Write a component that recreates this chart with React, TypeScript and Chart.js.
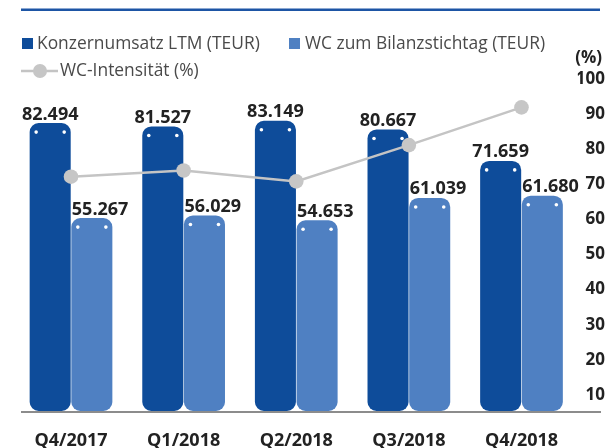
import React, { useEffect, useRef } from "react";
import { Chart, registerables } from "chart.js";

Chart.register(...registerables);

const categories = ["Q4/2017", "Q1/2018", "Q2/2018", "Q3/2018", "Q4/2018"];
const umsatz = [82494, 81527, 83149, 80667, 71659];
const wc = [55267, 56029, 54653, 61039, 61680];
const intensitaet = [67.0, 68.7, 65.7, 75.7, 86.1];
const pctTicks = [10, 20, 30, 40, 50, 60, 70, 80, 90, 100];
const seriesNames = ["Konzernumsatz LTM (TEUR)", "WC zum Bilanzstichtag (TEUR)", "WC-Intensität (%)"];
const pctTitle = "(%)";

const DARK = "#0e4c9a";
const LIGHT = "#4f80c2";
const GREY = "#c4c4c4";
const TEXT = "#222222";
const FONT = "'Open Sans', sans-serif";

function fmt(n: number): string {
  return String(n).replace(/\B(?=(\d{3})+(?!\d))/g, ".");
}

const decor = {
  id: "decor",
  beforeDraw(chart: any) {
    const ctx = chart.ctx;
    ctx.save();
    // top rule
    ctx.fillStyle = "#1d55a5";
    ctx.fillRect(21, 8.5, 579, 2.5);
    // legend
    ctx.font = `400 17.4px ${FONT}`;
    ctx.textBaseline = "middle";
    ctx.textAlign = "left";
    ctx.fillStyle = DARK;
    ctx.fillRect(22, 38, 11, 11);
    ctx.fillStyle = "#4a4a4a";
    ctx.fillText(seriesNames[0], 37, 44);
    ctx.fillStyle = LIGHT;
    ctx.fillRect(289, 38, 11, 11);
    ctx.fillStyle = "#4a4a4a";
    ctx.fillText(seriesNames[1], 305, 44);
    ctx.strokeStyle = GREY;
    ctx.lineWidth = 2.5;
    ctx.beginPath();
    ctx.moveTo(21, 71);
    ctx.lineTo(58, 71);
    ctx.stroke();
    ctx.fillStyle = "#c6c6c6";
    ctx.beginPath();
    ctx.arc(40, 71, 7, 0, Math.PI * 2);
    ctx.fill();
    ctx.fillStyle = "#4a4a4a";
    ctx.fillText(seriesNames[2], 60, 71);
    // (%) title of right axis
    ctx.font = `700 17px ${FONT}`;
    ctx.fillStyle = TEXT;
    ctx.textAlign = "right";
    ctx.fillText(pctTitle, 602, 58);
    ctx.restore();
  },
  afterDatasetsDraw(chart: any) {
    const ctx = chart.ctx;
    ctx.save();
    // baseline
    ctx.fillStyle = "#8c8c8c";
    ctx.fillRect(21, 411, 580, 2);
    [0, 1].forEach((di) => {
      const meta = chart.getDatasetMeta(di);
      const vals = chart.data.datasets[di].data as number[];
      meta.data.forEach((el: any, i: number) => {
        const half = el.width / 2;
        ctx.fillStyle = "#ffffff";
        [el.x - half + 6.5, el.x + half - 6.5].forEach((dx) => {
          ctx.beginPath();
          ctx.arc(dx, el.y + 9, 1.8, 0, Math.PI * 2);
          ctx.fill();
        });
        ctx.font = `700 18px ${FONT}`;
        ctx.fillStyle = TEXT;
        ctx.textBaseline = "alphabetic";
        if (di === 0) {
          ctx.textAlign = "center";
          ctx.fillText(fmt(vals[i]), el.x, el.y - 3.5);
        } else {
          ctx.textAlign = "left";
          ctx.fillText(fmt(vals[i]), el.x - half + 0.5, el.y - 3.5);
        }
      });
    });
    ctx.restore();
  },
};

export default function App() {
  const ref = useRef<HTMLCanvasElement>(null);
  useEffect(() => {
    if (!ref.current) return;
    const chart = new Chart(ref.current, {
      type: "bar",
      data: {
        labels: categories,
        datasets: [
          {
            type: "bar",
            label: seriesNames[0],
            data: umsatz,
            backgroundColor: DARK,
            borderRadius: 9,
            borderSkipped: false,
            categoryPercentage: 0.74,
            barPercentage: 0.985,
            yAxisID: "y",
            order: 2,
          },
          {
            type: "bar",
            label: seriesNames[1],
            data: wc,
            backgroundColor: LIGHT,
            borderRadius: 9,
            borderSkipped: false,
            categoryPercentage: 0.74,
            barPercentage: 0.985,
            yAxisID: "y",
            order: 2,
          },
          {
            type: "line",
            label: seriesNames[2],
            data: intensitaet,
            borderColor: GREY,
            borderWidth: 2.5,
            pointRadius: 7.3,
            pointBackgroundColor: "#c6c6c6",
            pointBorderWidth: 0,
            pointHoverRadius: 7.3,
            tension: 0,
            yAxisID: "y1",
            order: 0,
          } as any,
        ],
      },
      options: {
        animation: false,
        responsive: true,
        maintainAspectRatio: false,
        layout: { padding: { left: 14.7, top: 62, right: 0, bottom: 0 } },
        plugins: { legend: { display: false }, tooltip: { enabled: false } },
        scales: {
          x: {
            grid: { display: false, drawTicks: false },
            border: { display: false },
            ticks: {
              padding: 19,
              maxRotation: 0,
              autoSkip: false,
              color: TEXT,
              font: { family: FONT, size: 18, weight: "bold" },
            },
            afterFit: (s: any) => {
              s.height = 37;
            },
          },
          y: { display: false, min: 0, max: 100000 },
          y1: { display: false, min: 2.45, max: 98.6 },
          y2: {
            position: "right",
            min: 5.44,
            max: 104.8,
            grid: { display: false, drawTicks: false },
            border: { display: false },
            afterBuildTicks: (s: any) => {
              s.ticks = pctTicks.map((v) => ({ value: v }));
            },
            ticks: {
              padding: -5,
              crossAlign: "far",
              color: TEXT,
              font: { family: FONT, size: 17, weight: "bold" },
            },
            afterFit: (s: any) => {
              s.width = 27.2;
            },
          },
        },
      } as any,
      plugins: [decor],
    });
    return () => chart.destroy();
  }, []);
  return (
    <div style={{ position: "fixed", left: 0, top: 0, width: 605, height: 448 }}>
      <canvas ref={ref} />
    </div>
  );
}
